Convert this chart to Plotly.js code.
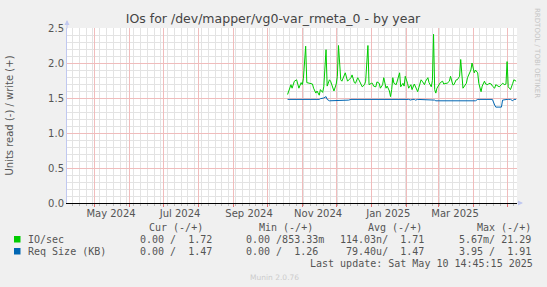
<!DOCTYPE html>
<html>
<head>
<meta charset="utf-8">
<script src="https://cdn.plot.ly/plotly-3.0.1.min.js"></script>
<style>
html,body{margin:0;padding:0;background:#f0f0f0;}
#chart{width:547px;height:287px;}
</style>
</head>
<body>
<div id="chart"></div>
<script>
// ---- data ----
const dates = ['2024-10-19','2024-10-22','2024-10-23','2024-10-25','2024-10-27','2024-10-29','2024-10-31',
'2024-11-01','2024-11-02','2024-11-04','2024-11-05','2024-11-08','2024-11-10','2024-11-11','2024-11-13','2024-11-14',
'2024-11-16','2024-11-17','2024-11-19','2024-11-20','2024-11-22','2024-11-23','2024-11-25','2024-11-26','2024-11-28','2024-11-29',
'2024-12-01','2024-12-02','2024-12-03','2024-12-05','2024-12-06','2024-12-08','2024-12-09','2024-12-11','2024-12-12','2024-12-14',
'2024-12-15','2024-12-17','2024-12-18','2024-12-20','2024-12-21','2024-12-23','2024-12-24','2024-12-26','2024-12-27','2024-12-29','2024-12-30',
'2025-01-01','2025-01-02','2025-01-03','2025-01-05','2025-01-06','2025-01-08','2025-01-09','2025-01-11','2025-01-12','2025-01-14',
'2025-01-15','2025-01-17','2025-01-18','2025-01-19','2025-01-20','2025-01-21','2025-01-23','2025-01-24','2025-01-26','2025-01-27',
'2025-01-29','2025-01-30','2025-01-31','2025-02-02','2025-02-03','2025-02-05','2025-02-06','2025-02-08','2025-02-09','2025-02-11',
'2025-02-12','2025-02-14','2025-02-15','2025-02-17','2025-02-18','2025-02-20','2025-02-21','2025-02-23','2025-02-24','2025-02-25',
'2025-02-26','2025-02-27','2025-02-28','2025-03-02','2025-03-03','2025-03-05','2025-03-06','2025-03-08','2025-03-09','2025-03-11',
'2025-03-12','2025-03-14','2025-03-15','2025-03-17','2025-03-18','2025-03-20','2025-03-21','2025-03-23','2025-03-24','2025-03-26',
'2025-03-27','2025-03-29','2025-03-30','2025-03-31','2025-04-02','2025-04-03','2025-04-05','2025-04-06','2025-04-08','2025-04-09',
'2025-04-11','2025-04-12','2025-04-14','2025-04-15','2025-04-17','2025-04-18','2025-04-20','2025-04-21','2025-04-23','2025-04-24',
'2025-04-26','2025-04-27','2025-04-29','2025-04-30','2025-05-01','2025-05-02','2025-05-03','2025-05-04','2025-05-06','2025-05-07','2025-05-09'];

const ioWrite = [1.55,1.69,1.64,1.74,1.76,1.64,1.72,
1.69,1.78,2.24,1.72,1.71,1.70,1.64,1.57,1.60,
1.54,1.62,1.58,1.66,2.19,1.67,1.76,1.74,1.66,1.60,
1.70,1.81,2.25,1.76,1.74,1.81,1.86,1.74,1.76,1.79,
1.83,1.72,1.71,1.79,1.76,1.69,1.66,1.69,1.74,2.25,1.69,
1.71,1.71,1.67,1.66,1.73,1.71,1.64,1.69,1.79,1.64,
1.67,1.60,1.52,1.62,1.79,1.71,1.69,1.76,1.86,1.66,
1.71,1.67,1.81,1.71,1.64,1.69,1.62,1.70,1.67,1.59,
1.65,1.76,1.74,1.69,1.74,1.79,1.72,1.66,1.75,2.41,
1.62,1.57,1.64,1.69,1.72,1.74,1.70,1.71,1.71,1.74,
1.81,1.69,1.69,1.76,1.76,1.81,2.05,1.64,1.67,1.71,
1.79,1.86,1.90,2.00,1.86,1.90,1.86,1.71,1.59,1.67,
1.74,1.70,1.69,1.71,1.70,1.67,1.64,1.69,1.67,1.66,
1.69,1.71,1.69,1.70,2.02,1.66,1.64,1.62,1.71,1.76,1.74];

const reqSize = [1.48,1.48,1.48,1.48,1.47,1.47,1.47,
1.47,1.47,1.47,1.47,1.47,1.47,1.47,1.47,1.47,
1.48,1.49,1.49,1.50,1.52,1.48,1.46,1.46,1.46,1.47,
1.46,1.46,1.46,1.47,1.46,1.46,1.46,1.47,1.47,1.48,
1.48,1.48,1.48,1.48,1.48,1.48,1.48,1.48,1.48,1.48,1.48,
1.48,1.48,1.48,1.48,1.48,1.48,1.48,1.48,1.48,1.48,
1.48,1.48,1.49,1.48,1.48,1.48,1.48,1.48,1.48,1.48,
1.48,1.48,1.48,1.48,1.48,1.47,1.48,1.48,1.47,1.48,
1.48,1.48,1.48,1.48,1.47,1.48,1.48,1.48,1.47,1.47,
1.47,1.46,1.46,1.46,1.46,1.46,1.46,1.46,1.46,1.46,
1.47,1.47,1.47,1.47,1.47,1.47,1.47,1.47,1.47,1.47,
1.47,1.47,1.47,1.46,1.46,1.46,1.48,1.48,1.48,1.48,
1.48,1.48,1.48,1.48,1.48,1.48,1.40,1.37,1.37,1.37,
1.37,1.47,1.48,1.48,1.48,1.48,1.48,1.48,1.46,1.48,1.48];

const seriesNames = ['IO/sec', 'Req Size (KB)'];
const seriesColors = ['#00cc00', '#0066b3'];
const xLabelDates = ['2024-05-16','2024-07-16','2024-09-15','2024-11-15','2025-01-16','2025-03-16'];
const xLabels = ['May 2024','Jul 2024','Sep 2024','Nov 2024','Jan 2025','Mar 2025'];
const legendHeaders = ['Cur (-/+)', 'Min (-/+)', 'Avg (-/+)', 'Max (-/+)'];
const legendRowIO  = ['0.00 /  1.72', '0.00 /853.33m', '114.03n/  1.71', '5.67m/ 21.29'];
const legendRowReq = ['0.00 /  1.47', '0.00 /  1.26', ' 79.40u/  1.47', '3.95 /  1.91'];
const titleText = 'IOs for /dev/mapper/vg0-var_rmeta_0 - by year';
const yTitle = 'Units read (-) / write (+)';
const lastUpdate = 'Last update: Sat May 10 14:45:15 2025';
const xRange = ['2024-04-07 02:00', '2025-05-09 18:00'];

// ---- layout helpers (pixel -> paper) ----
const L = 67, R = 517, T = 28, B = 203;
const px = x => (x - L) / (R - L);
const py = y => (B - y) / (B - T);
const nb = s => s.replace(/ /g, '\u00a0');

const mono = {family: 'DejaVu Sans Mono', size: 10, color: '#555'};
const colX = [137.5, 244, 338, 456.5];
const headX = [147, 257, 366, 475];

const ann = [];
legendHeaders.forEach((h, i) => ann.push({xref:'paper', yref:'paper', x: px(headX[i]), y: py(227), xanchor:'left', yanchor:'middle', text: nb(h), showarrow:false, font: mono}));
[legendRowIO, legendRowReq].forEach((row, r) => {
  const yy = r === 0 ? 239.5 : 251.5;
  ann.push({xref:'paper', yref:'paper', x: px(26), y: py(yy), xanchor:'left', yanchor:'middle', text: nb(seriesNames[r]), showarrow:false, font: mono});
  row.forEach((c, i) => ann.push({xref:'paper', yref:'paper', x: px(colX[i]), y: py(yy), xanchor:'left', yanchor:'middle', text: nb(c), showarrow:false, font: mono}));
});
ann.push({xref:'paper', yref:'paper', x: px(535), y: py(263), xanchor:'right', yanchor:'middle', text: nb(lastUpdate), showarrow:false, font: mono});
ann.push({xref:'paper', yref:'paper', x: px(274), y: py(277), xanchor:'center', yanchor:'middle', text: 'Munin 2.0.76', showarrow:false, font: {family:'DejaVu Sans', size: 7.5, color:'#cccccc'}});
ann.push({xref:'paper', yref:'paper', x: px(537), y: py(53), xanchor:'center', yanchor:'middle', text: 'RRDTOOL / TOBI OETIKER', textangle: 90, showarrow:false, font: {family:'DejaVu Sans', size: 7, color:'#c4c4c4'}});
// axis arrows
ann.push({xref:'paper', yref:'paper', x: 0, y: py(20), text:'', showarrow:true, arrowhead:2, arrowsize:1, arrowwidth:1, arrowcolor:'#c0c8f0', ax:0, ay:10});
ann.push({xref:'paper', yref:'paper', x: px(523), y: 0, text:'', showarrow:true, arrowhead:2, arrowsize:1, arrowwidth:1, arrowcolor:'#c0c8f0', ax:-7, ay:0});

const shapes = [
  {type:'rect', xref:'paper', yref:'paper', x0: px(14), x1: px(20.5), y0: py(242.5), y1: py(236), fillcolor: seriesColors[0], line:{width:0}},
  {type:'rect', xref:'paper', yref:'paper', x0: px(14), x1: px(20.5), y0: py(254.5), y1: py(248), fillcolor: seriesColors[1], line:{width:0}}
];

const traces = [
  {x: dates, y: reqSize, type:'scatter', mode:'lines', name: seriesNames[1], xaxis:'x2', line:{color: seriesColors[1], width:1}},
  {x: dates, y: ioWrite, type:'scatter', mode:'lines', name: seriesNames[0], line:{color: seriesColors[0], width:1}}
];

const majorGrid = '#f0bcbc';
const minorGrid = '#e3e3e3';
const tickFont = {family:'DejaVu Sans', size: 10, color:'#555'};

const layout = {
  width: 547, height: 287,
  paper_bgcolor: '#f0f0f0', plot_bgcolor: '#ffffff',
  margin: {l: L, r: 547 - R, t: T, b: 287 - B, pad: 0},
  showlegend: false,
  title: {text: titleText, x: 273/547, xanchor:'center', y: 1 - 19/287, yanchor:'middle', font: {family:'DejaVu Sans', size: 12.5, color:'#444'}},
  xaxis: {
    type:'date', range: xRange, tickmode:'linear', tick0:'2024-05-01', dtick:'M1',
    showticklabels:false,
    showgrid:true, gridcolor: majorGrid, gridwidth:1,
    ticks:'outside', ticklen:3, tickcolor:'#e07070',
    showline:true, linecolor:'#000', linewidth:1, zeroline:false,
    minor: {dtick: 6*86400000, tick0:'2024-04-12', showgrid:true, gridcolor: minorGrid, gridwidth:1, ticks:'outside', ticklen:2, tickcolor:'#bbb'}
  },
  xaxis2: {
    type:'date', overlaying:'x', matches:'x', anchor:'y', side:'bottom',
    tickmode:'array', tickvals: xLabelDates, ticktext: xLabels, tickfont: tickFont,
    showgrid:false, ticks:'', ticklen:0, showline:false, zeroline:false, ticklabelstandoff: 3
  },
  yaxis: {
    range:[0, 2.5], tickmode:'linear', tick0:0, dtick:0.5, tickformat:'.1f', tickfont: tickFont,
    showgrid:true, gridcolor: majorGrid, gridwidth:1,
    ticks:'', showline:true, linecolor:'#c0c8f0', linewidth:1, zeroline:false,
    minor: {dtick:0.1, showgrid:true, gridcolor: minorGrid, gridwidth:1},
    title: {text: yTitle, font:{family:'DejaVu Sans', size:10, color:'#555'}, standoff: 32}
  },
  annotations: ann,
  shapes: shapes
};

Plotly.newPlot('chart', traces, layout, {staticPlot:true, displayModeBar:false});
</script>
</body>
</html>
